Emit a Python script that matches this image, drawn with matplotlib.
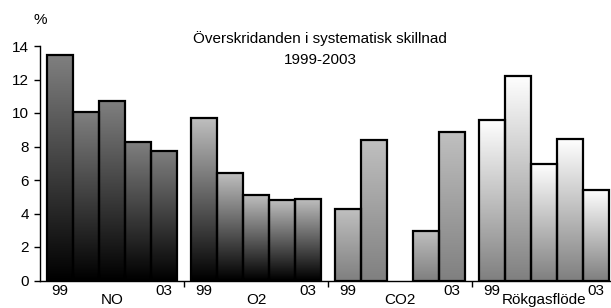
import numpy as np
import matplotlib.pyplot as plt
from matplotlib.colors import LinearSegmentedColormap
from matplotlib.transforms import blended_transform_factory

plt.rcParams['font.family'] = ['Liberation Sans', 'DejaVu Sans']

# --- Data ---
years = ['99', '00', '01', '02', '03']
groups = ['NO', 'O2', 'CO2', 'Rökgasflöde']
no_vals = [13.45, 10.05, 10.7, 8.25, 7.75]
o2_vals = [9.7, 6.4, 5.1, 4.8, 4.85]
co2_vals = [4.25, 8.4, np.nan, 2.95, 8.85]
rok_vals = [9.6, 12.2, 6.95, 8.45, 5.4]

# gradient per group: (bottom, top)
grad_colors = [('#000000', '#808080'),
               ('#000000', '#c0c0c0'),
               ('#808080', '#c0c0c0'),
               ('#808080', '#ffffff')]

W, H = 611, 308
fig = plt.figure(figsize=(W / 100, H / 100), dpi=100)
ax = fig.add_axes([40 / W, 27.5 / H, 571 / W, 234.5 / H])

bar_w = 0.18
offset = 0.05
grad = np.linspace(0, 1, 256).reshape(-1, 1)

for g, vals in enumerate([no_vals, o2_vals, co2_vals, rok_vals]):
    cmap = LinearSegmentedColormap.from_list('g%d' % g, grad_colors[g])
    for k, v in enumerate(vals):
        if np.isnan(v):
            continue
        x0 = g + offset + k * bar_w
        ax.imshow(grad, extent=(x0, x0 + bar_w, 0, v), origin='lower',
                  aspect='auto', cmap=cmap, vmin=0, vmax=1, zorder=1)
        ax.bar(x0, v, width=bar_w, align='edge', facecolor='none',
               edgecolor='black', linewidth=1.6, zorder=2)

ax.set_xlim(0, (W - 40) / 144)
ax.set_ylim(0, 14)
ax.set_yticks(range(0, 15, 2))
ax.tick_params(axis='y', direction='out', length=4, width=1, labelsize=11, pad=4)
ax.set_xticks([1, 2, 3])
ax.set_xticklabels([])
ax.tick_params(axis='x', direction='out', length=4, width=1)

for s in ['top', 'right']:
    ax.spines[s].set_visible(False)
for s in ['left', 'bottom']:
    ax.spines[s].set_linewidth(1)

tr = blended_transform_factory(ax.transData, ax.transAxes)
for g, name in enumerate(groups):
    ax.text(g + offset + bar_w / 2, -0.043, years[0], transform=tr,
            ha='center', va='center', fontsize=11)
    ax.text(g + offset + 4.5 * bar_w, -0.043, years[-1], transform=tr,
            ha='center', va='center', fontsize=11)
    ax.text(g + 0.5, -0.084, name, transform=tr,
            ha='center', va='center', fontsize=11)

fig.text(40 / W, 1 - 20 / H, '%', ha='center', va='center', fontsize=11)
fig.text(320 / W, 1 - 39 / H, 'Överskridanden i systematisk skillnad',
         ha='center', va='center', fontsize=11)
fig.text(320 / W, 1 - 60 / H, '1999-2003', ha='center', va='center', fontsize=11)

fig.savefig('out.png', dpi=100)
